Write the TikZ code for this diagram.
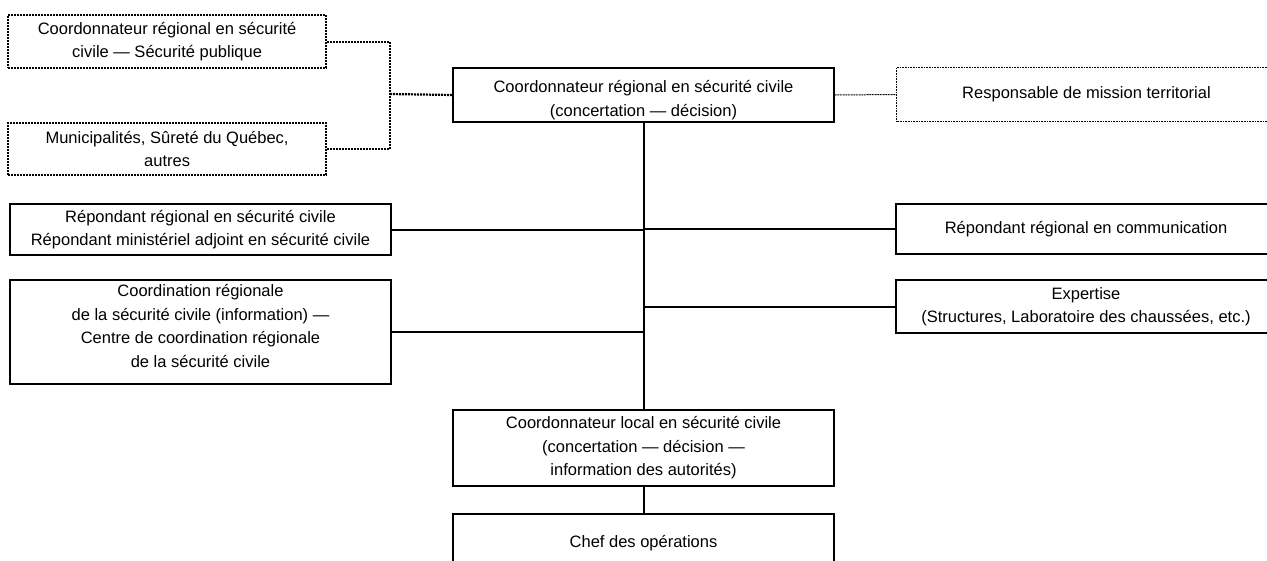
\documentclass[tikz,border=0pt]{standalone}
\usepackage{fontspec}
\setmainfont{Liberation Sans}
\begin{document}
\begin{tikzpicture}[x=1pt,y=-1pt,
  txt/.style={align=center, font=\fontsize{16.5}{23.5}\selectfont, inner sep=0pt},
  box/.style={draw, line width=2pt, inner sep=0pt, txt, anchor=north west},
  dotbox/.style={box, dash pattern=on 2pt off 1pt, line width=2.2pt},
  thindot/.style={box, dash pattern=on 1pt off 0.6pt, line width=1pt},
  link/.style={line width=2pt},
  dotlink/.style={line width=2.2pt, dash pattern=on 2pt off 1pt},
  thinlink/.style={line width=1pt, dash pattern=on 1pt off 0.6pt}]
\useasboundingbox (0,0) rectangle (1267,560);
\begin{scope}
\clip (0,0) rectangle (1267,560);
\node[dotbox, minimum width=318pt, minimum height=53pt] (tl1) at (7,14) {Coordonnateur régional en sécurité\\civile — Sécurité publique};
\node[dotbox, minimum width=318pt, minimum height=52pt] (tl2) at (7,122) {Municipalités, Sûreté du Québec,\\autres};
\node[box, minimum width=381pt, minimum height=54pt,
  label={[txt, yshift=-5pt]center:Coordonnateur régional en sécurité civile\\(concertation — décision)}] (main) at (452,67) {};
\node[thindot, minimum width=380pt, minimum height=54pt] (resp) at (896,67) {Responsable de mission territorial};
\node[box, minimum width=381pt, minimum height=51pt] (rrsc) at (9,203) {Répondant régional en sécurité civile\\Répondant ministériel adjoint en sécurité civile};
\node[box, minimum width=381pt, minimum height=104pt,
  label={[txt, yshift=6pt]center:Coordination régionale\\de la sécurité civile (information) —\\Centre de coordination régionale\\de la sécurité civile}] (crsc) at (9,279) {};
\node[box, minimum width=380pt, minimum height=50pt] (rrc) at (895,203) {Répondant régional en communication};
\node[box, minimum width=380pt, minimum height=53pt] (exp) at (895,279) {Expertise\\(Structures, Laboratoire des chaussées, etc.)};
\node[box, minimum width=381pt, minimum height=76pt] (local) at (452,409) {Coordonnateur local en sécurité civile\\(concertation — décision —\\information des autorités)};
\node[box, minimum width=381pt, minimum height=59pt] (chef) at (452,513) {Chef des opérations};
\coordinate (br) at (390,94);
\draw[dotlink] (tl1.east) -| (br) |- (tl2.east);
\draw[dotlink] (br) -- (main.west);
\draw[thinlink] (main.east) -- (resp.west);
\draw[link] (main.south) -- (local.north);
\draw[link] (rrsc.east) -- (rrsc.east -| main.south);
\draw[link] (crsc.east) -- (crsc.east -| main.south);
\draw[link] (rrc.west) -- (rrc.west -| main.south);
\draw[link] (exp.west) -- (exp.west -| main.south);
\draw[link] (local.south) -- (chef.north);
\end{scope}
\end{tikzpicture}
\end{document}
